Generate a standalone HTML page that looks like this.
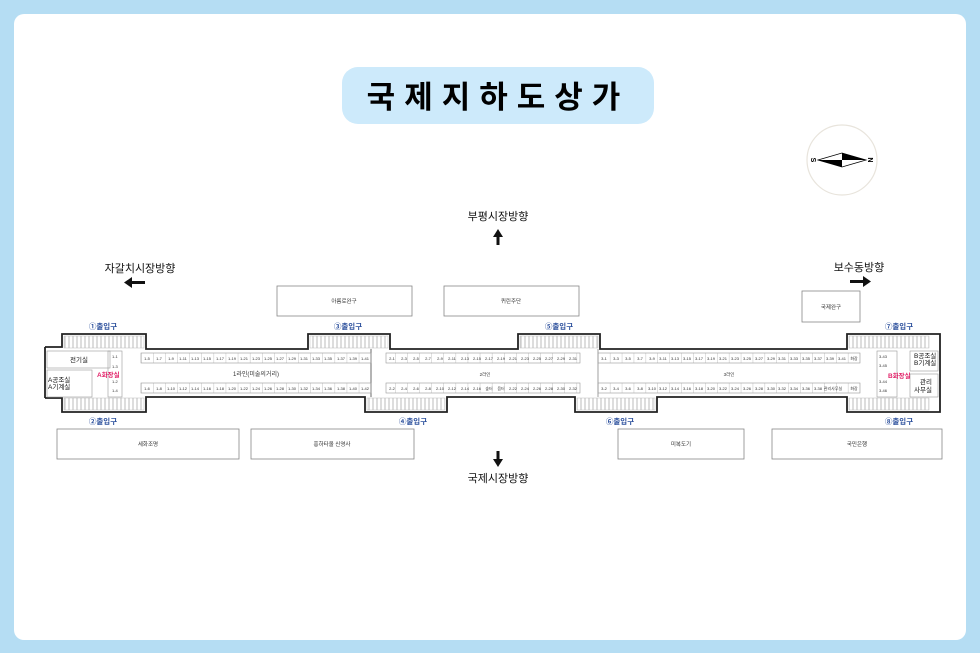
<!DOCTYPE html>
<html><head><meta charset="utf-8"><style>
html,body{margin:0;padding:0;width:980px;height:653px;overflow:hidden;background:#b5ddf3;}
svg{display:block;font-family:"Liberation Sans","Noto Sans CJK KR",sans-serif;}
</style></head><body>
<svg width="980" height="653" viewBox="0 0 980 653">
<defs>
<pattern id="c1" x="141" y="0" width="12.1" height="10" patternUnits="userSpaceOnUse"><line x1="0" y1="0" x2="0" y2="10" stroke="#999" stroke-width="0.6"/></pattern>
<pattern id="c3" x="598" y="0" width="11.9" height="10" patternUnits="userSpaceOnUse"><line x1="0" y1="0" x2="0" y2="10" stroke="#999" stroke-width="0.6"/></pattern>
<pattern id="st" x="0" y="0" width="4" height="10" patternUnits="userSpaceOnUse"><rect width="4" height="10" fill="#fff"/><line x1="1" y1="0" x2="1" y2="10" stroke="#aaa" stroke-width="0.8"/></pattern>
</defs>
<rect x="14" y="14" width="952" height="626" rx="10" fill="#fff"/>
<rect x="342" y="67" width="312" height="57" rx="16" fill="#cdeafb"/>
<text x="498" y="108" font-size="31" font-weight="bold" text-anchor="middle" letter-spacing="9">국제지하도상가</text>
<circle cx="842" cy="160" r="35" fill="#fff" stroke="#e8e4dc" stroke-width="1.2"/>
<polygon points="818,160 842,153 866,160 842,167" fill="#fff" stroke="#000" stroke-width="0.8"/>
<polygon points="842,153 866,160 842,160" fill="#000"/><polygon points="842,167 818,160 842,160" fill="#000"/>
<text x="813" y="162" font-size="7" font-weight="bold" transform="rotate(90 813 160)" text-anchor="middle">S</text>
<text x="871" y="162" font-size="7" font-weight="bold" transform="rotate(-90 871 160)" text-anchor="middle">N</text>
<g font-size="11" text-anchor="middle" fill="#111">
<text x="498" y="220">부평시장방향</text>
<text x="140" y="272">자갈치시장방향</text>
<text x="859" y="271">보수동방향</text>
<text x="498" y="482">국제시장방향</text>
</g>
<g fill="#111">
<rect x="496.5" y="235" width="3" height="10"/><polygon points="493,237 498,229 503,237"/>
<rect x="130" y="281" width="15" height="3"/><polygon points="132,277 124,282.5 132,288"/>
<rect x="850" y="280" width="15" height="3"/><polygon points="863,276 871,281.5 863,287"/>
<rect x="496.5" y="451" width="3" height="10"/><polygon points="493,459 498,467 503,459"/>
</g>
<g fill="#fff" stroke="#888" stroke-width="0.8" font-size="5" text-anchor="middle">
<rect x="277" y="286" width="135" height="30"/><rect x="444" y="286" width="135" height="30"/><rect x="802" y="291" width="58" height="31"/>
<rect x="57" y="429" width="182" height="30"/><rect x="251" y="429" width="163" height="30"/><rect x="618" y="429" width="126" height="30"/><rect x="772" y="429" width="170" height="30"/>
</g>
<g font-size="5.5" text-anchor="middle" fill="#333">
<text x="344" y="303">아름로완구</text><text x="511" y="303">퀴린주단</text><text x="831" y="309">국제완구</text>
<text x="148" y="446">세화조명</text><text x="332" y="446">흥하타올 신영사</text><text x="681" y="446">미복도기</text><text x="857" y="446">국민은행</text>
</g>
<!-- entrance stairs -->
<g fill="url(#st)" stroke="#bbb" stroke-width="0.5">
<rect x="64" y="336" width="80" height="12"/><rect x="310" y="336" width="78" height="12"/><rect x="520" y="336" width="78" height="12"/><rect x="849" y="336" width="80" height="12"/>
<rect x="64" y="398" width="80" height="12"/><rect x="367" y="398" width="78" height="12"/><rect x="577" y="398" width="78" height="12"/><rect x="849" y="398" width="80" height="12"/>
</g>
<path d="M45,347 H62 V334 H146 V349 H308 V334 H390 V349 H518 V334 H600 V349 H847 V334 H940 V347" fill="none" stroke="#222" stroke-width="1.8"/>
<path d="M45,398 H62 V412 H146 V397 H365 V412 H447 V397 H575 V412 H657 V397 H847 V412 H940 V398" fill="none" stroke="#222" stroke-width="1.8"/>
<line x1="45" y1="347" x2="45" y2="398" stroke="#222" stroke-width="1.8"/><line x1="940" y1="347" x2="940" y2="398" stroke="#222" stroke-width="1.8"/>
<line x1="371" y1="349" x2="371" y2="397" stroke="#444" stroke-width="0.8"/><line x1="598" y1="349" x2="598" y2="397" stroke="#888" stroke-width="0.8"/>
<g font-size="7.5" font-weight="bold" fill="#2b4f9c" text-anchor="middle">
<text x="103" y="329">①출입구</text><text x="348" y="329">③출입구</text><text x="559" y="329">⑤출입구</text><text x="899" y="329">⑦출입구</text>
<text x="103" y="424">②출입구</text><text x="413" y="424">④출입구</text><text x="620" y="424">⑥출입구</text><text x="899" y="424">⑧출입구</text>
</g>
<!-- left rooms -->
<g fill="none" stroke="#999" stroke-width="0.6">
<rect x="47" y="351" width="63" height="17"/><rect x="47" y="370" width="45" height="27"/><rect x="108" y="351" width="14" height="46"/>
<rect x="877" y="351" width="20" height="46"/><rect x="910" y="351" width="28" height="20"/><rect x="910" y="374" width="28" height="23"/>
</g>
<g font-size="6.5" fill="#111">
<text x="70" y="362">전기실</text><text x="48" y="382">A공조실</text><text x="48" y="389">A기계실</text>
<text x="914" y="358">B공조실</text><text x="914" y="365">B기계실</text><text x="920" y="384">관리</text><text x="914" y="392">사무실</text>
</g>
<text x="97" y="377" font-size="6.5" fill="#e2246a" font-weight="bold">A화장실</text>
<text x="888" y="378" font-size="6.5" fill="#e2246a" font-weight="bold">B화장실</text>
<g font-size="4" fill="#333"><text x="112" y="358">1-1</text><text x="112" y="368">1-3</text><text x="112" y="383">1-2</text><text x="112" y="392">1-4</text>
<text x="879" y="358">3-43</text><text x="879" y="367">3-45</text><text x="879" y="383">3-44</text><text x="879" y="392">3-46</text></g>
<!-- shop rows -->
<g stroke="#999" stroke-width="0.6">
<rect x="141" y="353" width="230" height="10" fill="url(#c1)"/><rect x="141" y="383" width="230" height="10" fill="url(#c1)"/>
<rect x="386" y="353" width="194" height="10" fill="url(#c1)" transform="translate(0,0)"/><rect x="386" y="383" width="194" height="10" fill="url(#c1)"/>
<rect x="598" y="353" width="262" height="10" fill="url(#c3)"/><rect x="598" y="383" width="262" height="10" fill="url(#c3)"/>
</g>
<g font-size="4" fill="#333" text-anchor="middle">
<text y="360"><tspan x="147">1-5</tspan><tspan x="159">1-7</tspan><tspan x="171">1-9</tspan><tspan x="183">1-11</tspan><tspan x="195">1-13</tspan><tspan x="207">1-15</tspan><tspan x="220">1-17</tspan><tspan x="232">1-19</tspan><tspan x="244">1-21</tspan><tspan x="256">1-23</tspan><tspan x="268">1-25</tspan><tspan x="280">1-27</tspan><tspan x="292">1-29</tspan><tspan x="304">1-31</tspan><tspan x="316">1-33</tspan><tspan x="328">1-35</tspan><tspan x="341">1-37</tspan><tspan x="353">1-39</tspan><tspan x="365">1-41</tspan></text>
<text y="390"><tspan x="147">1-6</tspan><tspan x="159">1-8</tspan><tspan x="171">1-10</tspan><tspan x="183">1-12</tspan><tspan x="195">1-14</tspan><tspan x="207">1-16</tspan><tspan x="220">1-18</tspan><tspan x="232">1-20</tspan><tspan x="244">1-22</tspan><tspan x="256">1-24</tspan><tspan x="268">1-26</tspan><tspan x="280">1-28</tspan><tspan x="292">1-30</tspan><tspan x="304">1-32</tspan><tspan x="316">1-34</tspan><tspan x="328">1-36</tspan><tspan x="341">1-38</tspan><tspan x="353">1-40</tspan><tspan x="365">1-42</tspan></text>
<text y="360"><tspan x="392">2-1</tspan><tspan x="404">2-3</tspan><tspan x="416">2-5</tspan><tspan x="428">2-7</tspan><tspan x="440">2-9</tspan><tspan x="452">2-11</tspan><tspan x="465">2-13</tspan><tspan x="477">2-15</tspan><tspan x="489">2-17</tspan><tspan x="501">2-19</tspan><tspan x="513">2-21</tspan><tspan x="525">2-23</tspan><tspan x="537">2-25</tspan><tspan x="549">2-27</tspan><tspan x="561">2-29</tspan><tspan x="573">2-31</tspan></text>
<text y="390"><tspan x="392">2-2</tspan><tspan x="404">2-4</tspan><tspan x="416">2-6</tspan><tspan x="428">2-8</tspan><tspan x="440">2-10</tspan><tspan x="452">2-12</tspan><tspan x="465">2-14</tspan><tspan x="477">2-16</tspan><tspan x="489">숲터</tspan><tspan x="501">음터</tspan><tspan x="513">2-22</tspan><tspan x="525">2-24</tspan><tspan x="537">2-26</tspan><tspan x="549">2-28</tspan><tspan x="561">2-30</tspan><tspan x="573">2-32</tspan></text>
<text y="360"><tspan x="604">3-1</tspan><tspan x="616">3-3</tspan><tspan x="628">3-5</tspan><tspan x="640">3-7</tspan><tspan x="652">3-9</tspan><tspan x="663">3-11</tspan><tspan x="675">3-13</tspan><tspan x="687">3-15</tspan><tspan x="699">3-17</tspan><tspan x="711">3-19</tspan><tspan x="723">3-21</tspan><tspan x="735">3-23</tspan><tspan x="747">3-25</tspan><tspan x="759">3-27</tspan><tspan x="771">3-29</tspan><tspan x="782">3-31</tspan><tspan x="794">3-33</tspan><tspan x="806">3-35</tspan><tspan x="818">3-37</tspan><tspan x="830">3-39</tspan><tspan x="842">3-41</tspan><tspan x="854">화장</tspan></text>
<text y="390"><tspan x="604">3-2</tspan><tspan x="616">3-4</tspan><tspan x="628">3-6</tspan><tspan x="640">3-8</tspan><tspan x="652">3-10</tspan><tspan x="663">3-12</tspan><tspan x="675">3-14</tspan><tspan x="687">3-16</tspan><tspan x="699">3-18</tspan><tspan x="711">3-20</tspan><tspan x="723">3-22</tspan><tspan x="735">3-24</tspan><tspan x="747">3-26</tspan><tspan x="759">3-28</tspan><tspan x="771">3-30</tspan><tspan x="782">3-32</tspan><tspan x="794">3-34</tspan><tspan x="806">3-36</tspan><tspan x="818">3-38</tspan><tspan x="833">관리사무실</tspan><tspan x="854">화장</tspan></text>
</g>
<text x="256" y="376" font-size="6" fill="#333" text-anchor="middle">1라인(미술의거리)</text>
<text x="485" y="376" font-size="4.5" fill="#333" text-anchor="middle">2라인</text>
<text x="729" y="376" font-size="4.5" fill="#333" text-anchor="middle">3라인</text>
</svg>
</body></html>
